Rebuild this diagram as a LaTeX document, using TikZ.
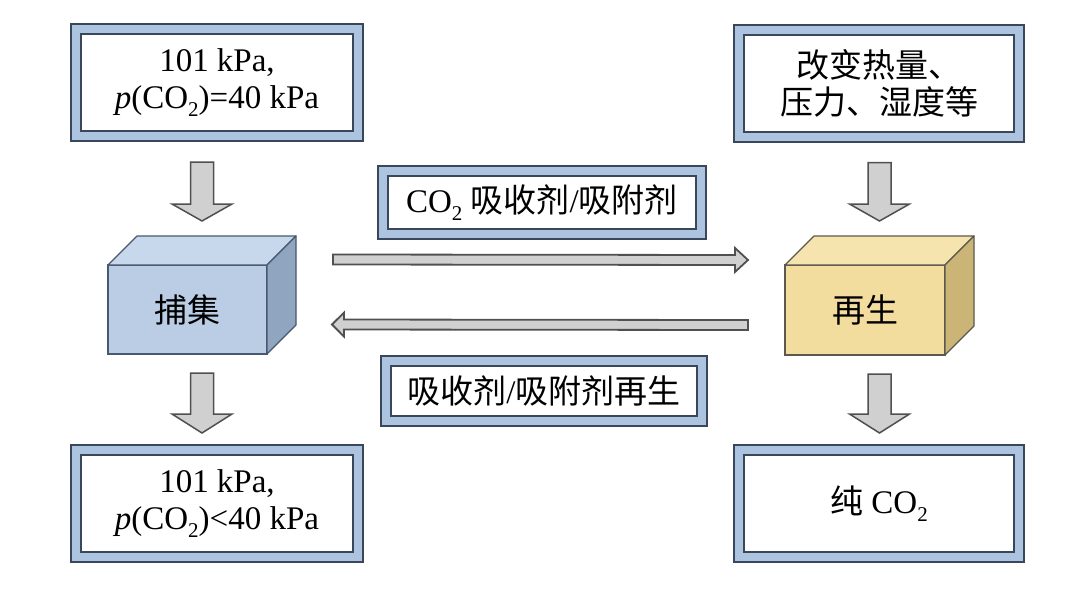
\documentclass[tikz,border=0pt]{standalone}
\usepackage{fontspec}
\setmainfont{Liberation Serif}
\newfontfamily\cjk{Noto Sans CJK SC}
\usetikzlibrary{calc}
\newcommand\lowsub[1]{\raisebox{-0.25em}{\fontsize{21}{21}\selectfont #1}}
\definecolor{framedark}{RGB}{58,70,90}
\definecolor{frameband}{RGB}{172,196,224}
\definecolor{edgeblue}{RGB}{72,88,110}
\definecolor{cubeblue}{RGB}{186,205,229}
\definecolor{topblue}{RGB}{199,215,236}
\definecolor{sideblue}{RGB}{143,165,192}
\definecolor{edgeyellow}{RGB}{92,88,78}
\definecolor{cubeyellow}{RGB}{243,221,158}
\definecolor{topyellow}{RGB}{246,228,175}
\definecolor{sideyellow}{RGB}{203,181,118}
\definecolor{arrowgray}{RGB}{208,208,208}
\definecolor{arrowedge}{RGB}{80,80,80}
\tikzset{
  panel/.style={rectangle, draw=framedark, line width=2pt, double=frameband,
    double distance=8pt, fill=white, align=center, inner sep=0pt, outer sep=6pt,
    font=\fontsize{33}{37}\selectfont},
  cubebox/.style={rectangle, draw=edge#1, fill=cube#1, line width=1.2pt,
    inner sep=0pt, outer sep=0pt, font=\fontsize{33}{37}\selectfont},
  block/.style n args={3}{draw=arrowedge, fill=arrowgray, line width=1.5pt,
    to path={(\tikztostart) coordinate (bs) (\tikztotarget) coordinate (bt)
      ($(bs)!#1!90:(bt)$) -- ($(bt)!#3!(bs)!#1!90:(bt)$)
      -- ($(bt)!#3!(bs)!#2!90:(bt)$) -- (bt)
      -- ($(bt)!#3!(bs)!#2!-90:(bt)$) -- ($(bt)!#3!(bs)!#1!-90:(bt)$)
      -- ($(bs)!#1!-90:(bt)$) -- cycle}}
}
\begin{document}
\begin{tikzpicture}[x=1pt,y=-1pt]
  \fill[white] (0,0) rectangle (1080,590);
  \useasboundingbox (0,0) rectangle (1080,590);

  % conditions
  \node[panel, minimum width=282pt, minimum height=107pt] (feed) at (217,82.5)
    {101 kPa,\\\textit{p}(CO\lowsub{2})=40 kPa};
  \node[panel, minimum width=280pt, minimum height=107pt] (heat) at (879,83)
    {{\cjk 改变热量、}\\{\cjk 压力、湿度等}};
  \node[panel, minimum width=282pt, minimum height=107pt] (lean) at (217,503.5)
    {101 kPa,\\\textit{p}(CO\lowsub{2})<40 kPa};
  \node[panel, minimum width=280pt, minimum height=107pt] (pure) at (879,503.5)
    {{\cjk 纯} CO\lowsub{2}};

  % labels of the loop
  \node[panel, minimum width=318pt, minimum height=63pt] (sorbent) at (542,202.5)
    {CO\lowsub{2} {\cjk 吸收剂}/{\cjk 吸附剂}};
  \node[panel, minimum width=316pt, minimum height=60pt] (renew) at (544,391)
    {{\cjk 吸收剂}/{\cjk 吸附剂再生}};

  % the two units
  \node[cubebox=blue, minimum width=159pt, minimum height=89pt] (capture) at (187.5,309.5) {{\cjk 捕集}};
  \node[cubebox=yellow, minimum width=160pt, minimum height=90pt] (regen) at (865,310) {{\cjk 再生}};
  \foreach \c/\col in {capture/blue, regen/yellow}{
    \draw[edge\col, line width=1.2pt, fill=top\col, line join=round]
      (\c.north west) -- ++(29,-29) -- ($(\c.north east)+(29,-29)$) -- (\c.north east) -- cycle;
    \draw[edge\col, line width=1.2pt, fill=side\col, line join=round]
      (\c.north east) -- ++(29,-29) -- ($(\c.south east)+(29,-29)$) -- (\c.south east) -- cycle;
    \coordinate (\c-top) at ($(\c.north)+(14.5,-29)$);
    \coordinate (\c-bot) at ($(\c.south)+(14.5,0)$);
  }

  % flows in and out
  \foreach \a/\b/\z in {feed/capture/lean, heat/regen/pure}{
    \draw[block={11.5pt}{30pt}{17pt}] ($(\a.south -| \b-top)+(0,20)$) to ($(\b-top)+(0,-15)$);
    \draw[block={11.5pt}{30pt}{19pt}] ($(\b-bot)+(0,19)$) to ($(\z.north -| \b-bot)+(0,-11)$);
  }

  % sorbent loop
  \draw[block={5pt}{12pt}{13pt}, line width=1.8pt] ($(capture.east)+(66,-50)$) to ($(regen.west)+(-37,-50)$);
  \draw[block={5pt}{12pt}{12pt}, line width=1.8pt] ($(regen.west)+(-37,15)$) to ($(capture.east)+(65,15)$);
\end{tikzpicture}
\end{document}
